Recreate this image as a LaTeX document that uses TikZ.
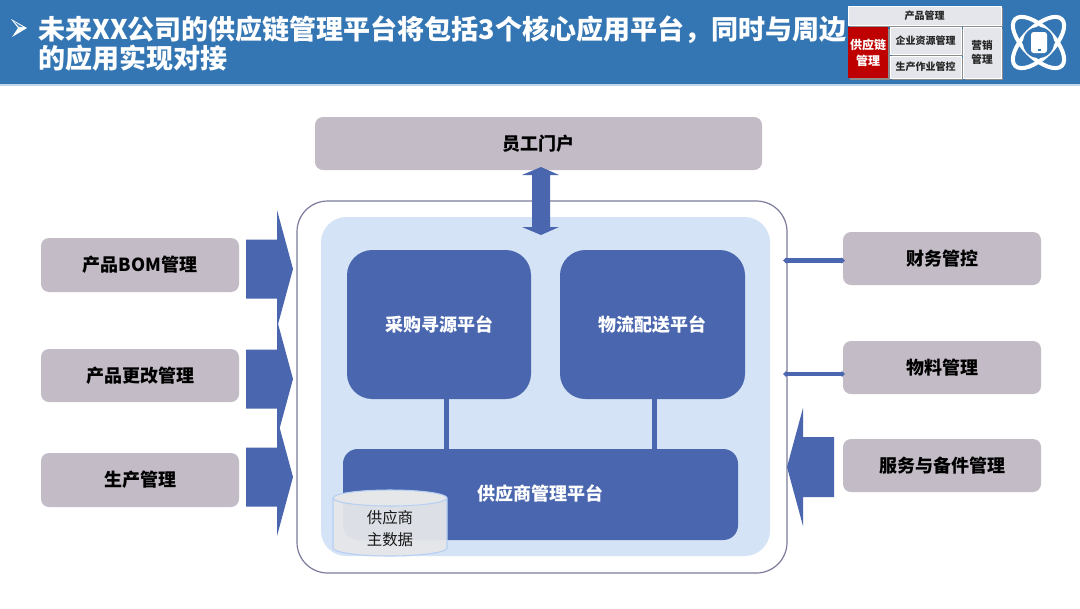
\documentclass[tikz,border=0pt]{standalone}
\usepackage{fontspec}
\setmainfont{Noto Sans CJK SC}
\usetikzlibrary{arrows.meta,shapes.geometric}
\definecolor{hdr}{HTML}{3476B3}
\definecolor{plat}{HTML}{4A66AE}
\definecolor{pale}{HTML}{D4E4F6}
\definecolor{mauve}{HTML}{C3BCC6}
\definecolor{frame}{HTML}{7C7C9C}
\definecolor{mini}{HTML}{E4E6EB}
\definecolor{cyl}{HTML}{E6E7E9}
\definecolor{cyledge}{HTML}{B6CFF2}
\tikzset{
  x=0.75pt,y=-0.75pt,
  every node/.style={inner sep=0pt,outer sep=0pt,align=center},
  sidebox/.style={fill=mauve,rounded corners=6pt,font=\bfseries\fontsize{13.5}{16}\selectfont,text=black},
  platbox/.style={fill=plat,rounded corners=19pt,font=\bfseries\fontsize{13.5}{16}\selectfont,text=white},
  minibox/.style={fill=mini,draw=white,line width=.3pt,font=\bfseries\fontsize{7.5}{9.5}\selectfont,text=black!85},
  link/.style={draw=plat,line width=3.75pt},
  thin link/.style={draw=plat,line width=3.4pt,{Latex[length=2.5pt,width=5.5pt]}-{Latex[length=2.5pt,width=5.5pt]}},
  bigarrow/.style={fill=plat},
}
\newcommand{\bx}[7]{\node[#1,minimum width={(#5-#3)*.75pt},minimum height={(#6-#4)*.75pt}] (#2) at ({(#3+#5)/2},{(#4+#6)/2}) {#7};}
\begin{document}
\begin{tikzpicture}
\useasboundingbox (0,0) rectangle (1080,608);
\fill[white] (0,0) rectangle (1080,608);
% header
\fill[hdr] (0,0) rectangle (1080,84);
\fill[hdr!30!white] (0,84) rectangle (1080,85.5);
\fill[white] (11,19) -- (27,28) -- (12,37) -- (18,28) -- cycle;
\fill[hdr!85!white] (14,21.5) -- (23,27) -- (19,27) -- cycle;
\node[anchor=west,font=\bfseries\fontsize{20.25}{21.75}\selectfont,text=white,align=left] (title) at (38.5,43.5)
  {未来XX公司的供应链管理平台将包括3个核心应用平台，同时与周边\\的应用实现对接};
% mini map shadows
\fill[black!45] (850,8) rectangle (1003,27);
\fill[black!45] (850,29) rectangle (890,80);
\fill[black!45] (892,29) rectangle (963,56);
\fill[black!45] (892,58) rectangle (963,80);
\fill[black!45] (965,29) rectangle (1003,80);
\bx{minibox}{m1}{848}{6}{1001}{25}{产品管理}
\bx{minibox,fill=red!75!black,draw=none,text=white,font=\bfseries\fontsize{9}{12}\selectfont}{m2}{848}{27}{888}{78}{供应链\\管理}
\bx{minibox}{m3}{890}{27}{961}{54}{企业资源管理}
\bx{minibox}{m4}{890}{56}{961}{78}{生产作业管控}
\bx{minibox,font=\bfseries\fontsize{8}{10.5}\selectfont}{m5}{963}{27}{1001}{78}{营销\\管理}
% icon
\draw[white,line width=3pt,rotate around={45:(1038.5,42.5)}] (1038.5,42.5) ellipse [x radius=33,y radius=15];
\draw[white,line width=3pt,rotate around={-45:(1038.5,42.5)}] (1038.5,42.5) ellipse [x radius=33,y radius=15];
\fill[hdr] (1038.5,42.5) circle [radius=15.5];
\fill[white,rounded corners=2pt] (1031,32) rectangle (1047,53);
\fill[hdr] (1037.5,49.2) rectangle (1040.5,51.2);
% containers
\bx{draw=frame,line width=.9pt,fill=white,rounded corners=23pt}{outer}{297}{201}{787}{573}{}
\bx{fill=pale,rounded corners=19pt}{inner}{321}{217}{770}{556}{}
% side boxes
\bx{sidebox}{portal}{315}{117}{762}{170}{员工门户}
\bx{sidebox}{bom}{41}{238}{239}{292}{产品BOM管理}
\bx{sidebox}{chg}{41}{349}{239}{402}{产品更改管理}
\bx{sidebox}{prod}{41}{453}{239}{507}{生产管理}
\bx{sidebox}{fin}{843}{232}{1041}{285}{财务管控}
\bx{sidebox}{mat}{843}{341}{1041}{394}{物料管理}
\bx{sidebox}{svc}{843}{439}{1041}{492}{服务与备件管理}
% platforms
\bx{platbox}{src}{347}{250}{531}{399}{采购寻源平台}
\bx{platbox}{log}{560}{250}{745}{399}{物流配送平台}
\bx{platbox,rounded corners=11pt}{sup}{343}{449}{738}{540}{}
\node[font=\bfseries\fontsize{13.5}{16}\selectfont,text=white] (suplabel) at (540,494) {供应商管理平台};
% vertical links
\coordinate (a1) at (446,399); \coordinate (a2) at (446,449);
\coordinate (b1) at (654,399); \coordinate (b2) at (654,449);
\draw[link] (a1) -- (a2);
\draw[link] (b1) -- (b2);
% thin double arrows
\coordinate (f1) at (783,260.5); \coordinate (f2) at (845,260.5);
\coordinate (g1) at (783,374); \coordinate (g2) at (845,374);
\draw[thin link] (f1) -- (f2);
\draw[thin link] (g1) -- (g2);
% big arrows
\newcommand{\rarrow}[1]{\fill[bigarrow] (246,#1-29.5) -- (277,#1-29.5) -- (277,#1-59) -- (293,#1) -- (277,#1+59) -- (277,#1+29.5) -- (246,#1+29.5) -- cycle;}
\rarrow{269}
\rarrow{379}
\rarrow{477}
\fill[bigarrow] (834,437) -- (803,437) -- (803,408) -- (787,467) -- (803,526) -- (803,497) -- (834,497) -- cycle;
\fill[bigarrow] (541,167) -- (559,175) -- (550,175) -- (550,227) -- (559,227) -- (541,235) -- (522,227) -- (532,227) -- (532,175) -- (522,175) -- cycle;
% cylinder
\path[fill=cyl,fill opacity=.94] (333,498) -- (333,548) arc[start angle=180,end angle=0,x radius=57,y radius=8] -- (447,498) arc[start angle=0,end angle=-180,x radius=57,y radius=8] -- cycle;
\draw[cyledge,line width=.8pt] (333,498) -- (333,548) arc[start angle=180,end angle=0,x radius=57,y radius=8] -- (447,498);
\draw[cyledge,line width=.8pt,fill=cyl] (390,498) ellipse [x radius=57,y radius=8];
\node[font=\fontsize{11.6}{16.5}\selectfont,text=black!90] (cyllabel) at (390,529) {供应商\\主数据};
\end{tikzpicture}
\end{document}
